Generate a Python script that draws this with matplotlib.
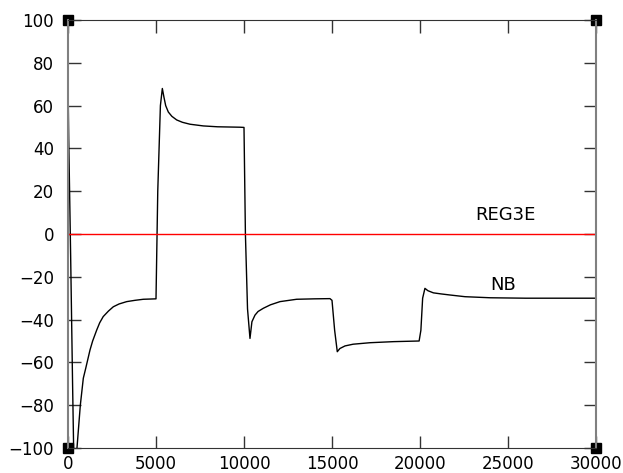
import numpy as np
import matplotlib
matplotlib.use("Agg")
import matplotlib.pyplot as plt

# NB trace (time, value)
nb_x = [0, 0, 40, 150, 260, 330, 420, 510, 700, 870, 1000, 1250, 1400, 1630,
        1800, 2000, 2300, 2575, 2900, 3335, 3800, 4280, 5000, 5100, 5250,
        5360, 5450, 5550, 5700, 5900, 6175, 6500, 6930, 7690, 8500, 9770,
        10000, 10080, 10200, 10340, 10450, 10625, 10800, 11100, 11500, 12045,
        12990, 14000, 14885, 15000, 15150, 15300, 15450, 15740, 16200, 17160,
        18500, 19950, 20050, 20150, 20280, 20450, 20760, 21200, 21700, 22560,
        24000, 26000, 30000]
nb_y = [89, 72, 45, -10, -70, -105, -108, -100, -80, -67.4, -63, -54.2, -50,
        -44.9, -41.5, -38.6, -36, -34, -32.7, -31.6, -31, -30.5, -30.3, 20,
        60, 68, 64, 60, 57, 55, 53.3, 52.2, 51.3, 50.5, 50.1, 49.9, 49.8, 0,
        -35, -48.8, -41, -37.9, -36.2, -34.7, -33.1, -31.6, -30.5, -30.3,
        -30.2, -31, -45, -55, -53.5, -52.3, -51.5, -50.8, -50.3, -50, -45,
        -30, -25.4, -26.5, -27.5, -28, -28.5, -29.3, -29.8, -30, -30]

reg3e_x = [0, 30000]
reg3e_y = [0, 0]

xticks = [0, 5000, 10000, 15000, 20000, 25000, 30000]
yticks = [-100, -80, -60, -40, -20, 0, 20, 40, 60, 80, 100]

fig = plt.figure(figsize=(6.23, 4.73), dpi=100)
ax = fig.add_axes([68 / 623, 1 - 448 / 473, 528 / 623, 428 / 473])

ax.plot(nb_x, nb_y, color="black", lw=1.0)
ax.plot(reg3e_x, reg3e_y, color="red", lw=1.0)

ax.text(24830, 8.9, "REG3E", fontsize=13, ha="center", va="center")
ax.text(24715, -23.8, "NB", fontsize=13, ha="center", va="center")

ax.set_xlim(0, 30000)
ax.set_ylim(-100, 100)
ax.set_xticks(xticks)
ax.set_yticks(yticks)
ax.tick_params(direction="in", length=9, width=1, color="#333333",
               top=True, right=True, labelsize=12)
ax.tick_params(axis="y", pad=10)
ax.tick_params(axis="x", pad=5)

for side in ["top", "bottom"]:
    ax.spines[side].set_color("#333333")
for side in ["left", "right"]:
    ax.spines[side].set_color("#808080")
    ax.spines[side].set_linewidth(1.5)

# black squares at the corners
ax.plot([0, 1, 0, 1], [0, 0, 1, 1], "s", color="black", ms=7,
        transform=ax.transAxes, clip_on=False)

fig.savefig("out.png", dpi=100)
